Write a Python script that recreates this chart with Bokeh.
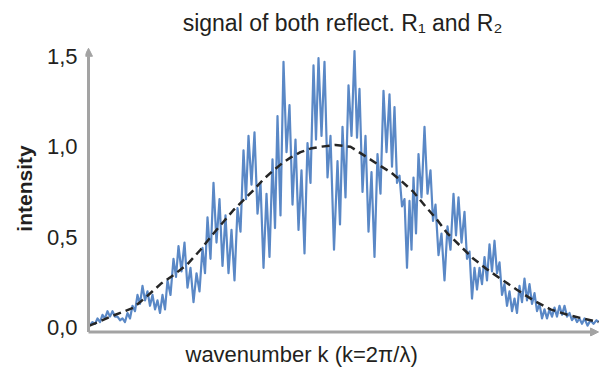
from bokeh.plotting import figure
from bokeh.models import Range1d, FixedTicker, Arrow, NormalHead, Title
from bokeh.embed import file_html
from bokeh.resources import INLINE

# ---------------- data ----------------
signal_k = [89, 92, 94.5, 97, 99.5, 102, 104.5, 107, 109.5, 112, 114.5, 117, 119.5, 122, 124.5,
            127, 129.5, 132, 134.5, 137, 139.5, 142, 144.5, 147, 149.5, 152, 154.5, 157, 159.5,
            162, 164.5, 167, 170, 173, 175.5, 178, 181, 184, 187, 190, 193, 196, 199, 202, 204.5,
            207, 210, 213, 216, 219, 222, 225, 228, 231, 234, 237, 240, 243, 245.5, 248, 251,
            254, 257, 260, 263, 266, 269, 272, 274.5, 277, 280, 283, 286, 289, 292, 295, 298,
            301, 304, 307, 310, 313, 315.5, 318, 321, 324, 327, 330, 333.5, 337, 339.5, 342, 345,
            348, 351, 354, 356.5, 359, 362, 365, 368, 371, 374, 377, 380, 383, 386, 389, 391.5,
            394, 396.5, 399, 401.5, 404, 406.5, 409, 411, 413, 415.5, 418, 421, 424, 427, 430,
            432.5, 435, 438, 441, 444, 447, 450, 453, 455.5, 458, 461, 464, 466.5, 469, 471.5,
            474, 476.5, 479, 481.5, 484, 486.5, 489, 491.5, 494, 496.5, 499, 501.5, 504, 506.5,
            509, 511.5, 514, 516.5, 519, 521.5, 524, 526.5, 529, 531.5, 534, 536.5, 539, 541.5,
            544, 546.5, 549, 551.5, 554, 556.5, 559, 561.5, 564, 566.5, 569, 571.5, 574, 576.5,
            579, 581.5, 584, 587, 590, 593, 596, 598]
signal_intensity = [0.01, .03, .02, .05, .03, .07, .05, .09, .06, .09, .06, .06, .04, .05, .03,
                    .08, .05, .12, .09, .18, .13, .23, .15, .20, .12, .18, .10, .15, .08,
                    .18, .10, .26, .18, .38, .28, .45, .31, .47, .22, .33, .14, .30, .20, .44, .30,
                    .61, .38, .80, .47, .71, .34, .62, .30, .54, .26, .66, .53, .98, .71, 1.06, .79,
                    1.08, .63, .80, .33, .74, .39, .93, .55, 1.17, .62, 1.47, .97, 1.23, .68, 1.04, .54,
                    .87, .41, 1.02, .80, 1.45, 1.04, 1.49, 1.06, 1.47, .83, 1.06, .43, .92, .57, 1.11, .72,
                    1.34, 1.06, 1.53, 1.05, 1.32, .75, 1.06, .53, .86, .39, .96, .74, 1.31, .97, 1.29, .89,
                    1.22, .80, .84, .67, .71, .33, .70, .43, .83, .52, .96, .72, 1.11, .74, .87,
                    .59, .68, .40, .52, .26, .56, .43, .74, .51, .72, .47, .64, .38, .42, .16,
                    .33, .21, .33, .24, .39, .26, .46, .31, .48, .30, .36, .18, .24, .12,
                    .20, .09, .16, .08, .23, .14, .27, .15, .24, .13, .19, .09, .13, .05,
                    .10, .05, .10, .06, .11, .06, .12, .07, .12, .06, .08, .04, .06, .03,
                    .05, .02, .05, .01, .04, .02, .04, .03]

envelope_k = [89, 100, 110, 122, 133, 146, 160, 173, 187, 200, 213, 223, 233, 243, 253, 263, 273,
              282, 290, 300, 310, 320, 335, 350, 367, 378, 390, 401, 413, 425, 436, 447, 460, 473,
              487, 500, 516, 533, 550, 567, 582, 598]
envelope_intensity = [0.01, 0.035, 0.06, 0.085, 0.11, 0.17, 0.24, 0.29, 0.35, 0.43, 0.52, 0.585,
                      0.65, 0.705, 0.76, 0.82, 0.87, 0.91, 0.94, 0.97, 0.99, 1.00, 1.01, 1.00, 0.94,
                      0.90, 0.86, 0.81, 0.75, 0.67, 0.60, 0.52, 0.45, 0.38, 0.32, 0.27, 0.21, 0.15,
                      0.10, 0.07, 0.05, 0.03]

y_ticks = [0, 0.5, 1.0, 1.5]
y_tick_labels = ["0,0", "0,5", "1,0", "1,5"]

assert len(signal_k) == len(signal_intensity)
assert len(envelope_k) == len(envelope_intensity)

# ---------------- styling ----------------
FONT = "Liberation Sans"
TEXT = "#231f20"
AXIS_GRAY = "#a3a3a3"
BLUE = "#5a88c6"

k_axis = 88
y_axis_base = -0.025
y_axis_top = 1.545

p = figure(width=599, height=383, output_backend="svg", toolbar_location=None,
           x_range=Range1d(85, 599), y_range=Range1d(-0.05, 1.588),
           x_axis_location=None,
           min_border_left=85, min_border_right=0, min_border_top=40, min_border_bottom=47)
p.background_fill_color = "white"
p.border_fill_color = "white"
p.outline_line_color = None
p.grid.visible = False

p.title.text = "signal of both reflect. R\u2081 and R\u2082"
p.title.align = "center"
p.title.text_font = FONT
p.title.text_font_size = "23px"
p.title.text_font_style = "normal"
p.title.text_color = TEXT
p.title.standoff = 10

ax = p.yaxis[0]
ax.ticker = FixedTicker(ticks=y_ticks)
ax.major_label_overrides = {t: l for t, l in zip(y_ticks, y_tick_labels)}
ax.axis_line_color = None
ax.major_tick_line_color = None
ax.minor_tick_line_color = None
ax.major_label_standoff = 2
ax.major_label_text_font = FONT
ax.major_label_text_font_size = "22px"
ax.major_label_text_color = TEXT
ax.axis_label = "intensity"
ax.axis_label_text_font = FONT
ax.axis_label_text_font_size = "21px"
ax.axis_label_text_font_style = "bold"
ax.axis_label_text_color = TEXT
ax.axis_label_standoff = 8

p.add_layout(Title(text="wavenumber k (k=2\u03c0/\u03bb)", align="left", offset=100,
                   text_font=FONT, text_font_size="22px", text_font_style="normal",
                   text_color=TEXT, standoff=6), "below")

# axes with arrow heads
p.add_layout(Arrow(end=NormalHead(size=8, fill_color=AXIS_GRAY, line_color=AXIS_GRAY),
                   x_start=k_axis, y_start=y_axis_base, x_end=598, y_end=y_axis_base,
                   line_color=AXIS_GRAY, line_width=3))
p.add_layout(Arrow(end=NormalHead(size=8, fill_color=AXIS_GRAY, line_color=AXIS_GRAY),
                   x_start=k_axis, y_start=y_axis_base, x_end=k_axis, y_end=y_axis_top,
                   line_color=AXIS_GRAY, line_width=3))

p.line(signal_k, signal_intensity, line_color=BLUE, line_width=2.2, line_join="round")
p.line(envelope_k, envelope_intensity, line_color="#262626", line_width=2.5, line_dash="8 5")

open("out.html", "w").write(file_html(p, INLINE))
